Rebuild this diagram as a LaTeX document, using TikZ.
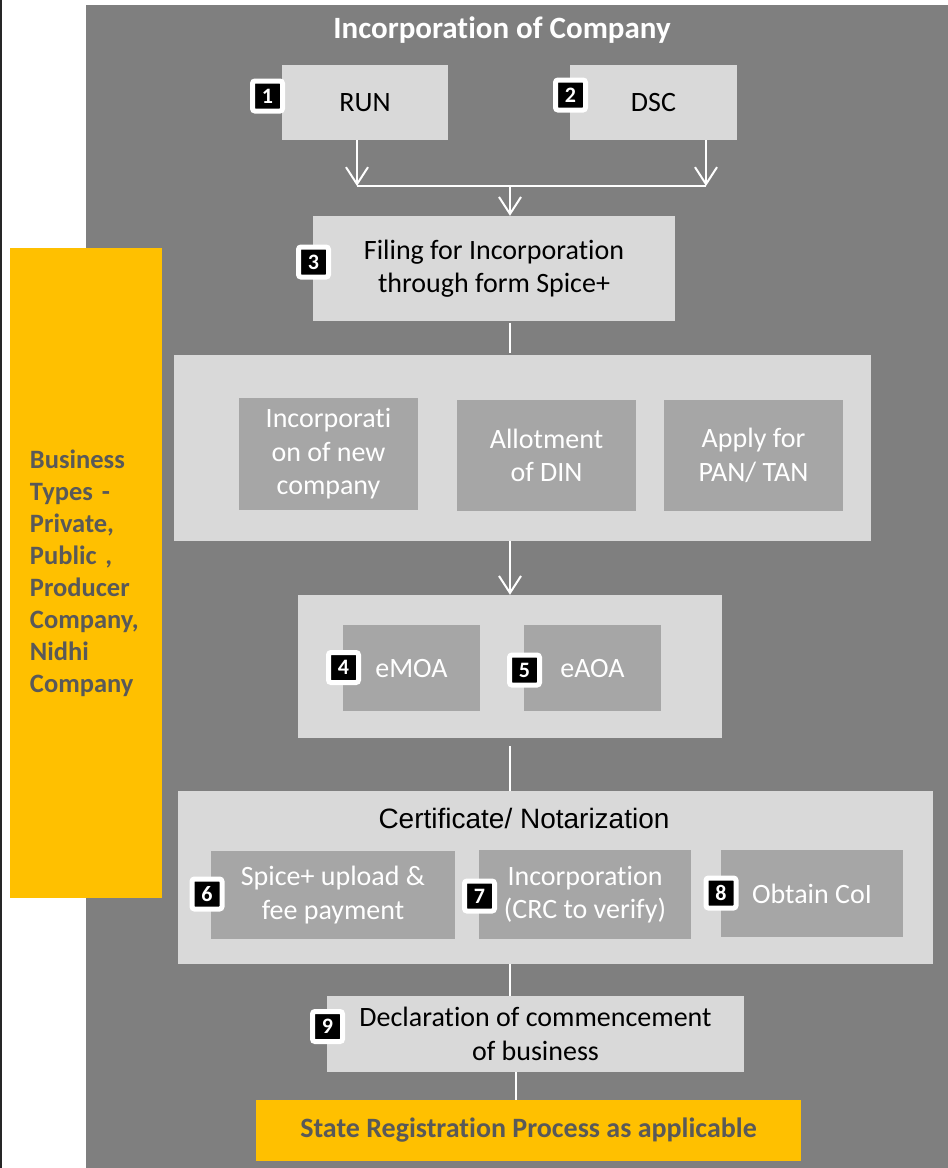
\documentclass[tikz,border=0pt]{standalone}
\usepackage{fontspec}
\setmainfont{Carlito}[RawFeature={-liga;-clig;-dlig}]
\newfontfamily\arialf{Liberation Sans}
\usetikzlibrary{arrows.meta}
\definecolor{bggray}{HTML}{7F7F7F}
\definecolor{lgray}{HTML}{D9D9D9}
\definecolor{mgray}{HTML}{A6A6A6}
\definecolor{ylw}{HTML}{FFC000}
\definecolor{dtxt}{HTML}{595959}
\begin{document}
\begin{tikzpicture}[x=1pt,y=-1pt,
  lbox/.style={fill=lgray, inner sep=0pt, align=center, font=\fontsize{28}{33.5}\selectfont, text=black},
  mbox/.style={fill=mgray, inner sep=0pt, align=center, font=\fontsize{28}{33.5}\selectfont, text=white},
  ybox/.style={fill=ylw, inner sep=0pt, text=dtxt},
  badge/.style={fill=black, draw=white, line width=5pt, rounded corners=2.5pt, minimum size=30pt, inner sep=0pt, text=white, font=\bfseries\fontsize{22}{22}\selectfont},
  conn/.style={draw=white, line width=2pt},
  arr/.style={conn, -{Straight Barb[length=17pt,width=22pt]}},
]
\useasboundingbox (0,0) rectangle (948,1168);
\fill[white] (0,0) rectangle (948,1168);
\fill[black!85] (0,0) rectangle (2,1168);
\fill[bggray] (86,5) rectangle (948,1168);

\node[font=\bfseries\fontsize{31}{31}\selectfont, text=white, inner sep=0pt] (title) at (502,30) {Incorporation of Company};

% left yellow box
\node[ybox, minimum width=152pt, minimum height=650pt, text width=112pt, align=left,
      font=\bfseries\fontsize{26.5}{32}\selectfont] (types) at (86,573)
  {Business\\Types -\\Private,\\Public ,\\Producer\\Company,\\Nidhi\\Company};

% step boxes
\node[lbox, minimum width=166pt, minimum height=75pt] (run) at (365,102.5) {RUN};
\node[lbox, minimum width=167pt, minimum height=75pt] (dsc) at (653.5,102.5) {DSC};
\node[lbox, minimum width=362pt, minimum height=105pt] (box3) at (494,268.5) {Filing for Incorporation\\through form Spice+};

\node[lbox, minimum width=697pt, minimum height=186pt] (boxA) at (522.5,448) {};
\node[mbox, minimum width=179pt, minimum height=112pt] (a1) at (328.5,454) {Incorporati\\on of new\\company};
\node[mbox, minimum width=179pt, minimum height=111pt] (a2) at (546.5,455.5) {Allotment\\of DIN};
\node[mbox, minimum width=179pt, minimum height=111pt] (a3) at (753.5,455.5) {Apply for\\PAN/ TAN};

\node[lbox, minimum width=424pt, minimum height=143pt] (boxB) at (510,666.5) {};
\node[mbox, minimum width=137pt, minimum height=86pt] (b4) at (411.5,668) {eMOA};
\node[mbox, minimum width=137pt, minimum height=86pt] (b5) at (592.5,668) {eAOA};

\node[lbox, minimum width=755pt, minimum height=173pt] (boxC) at (555.5,877.5) {};
\node[font=\arialf\fontsize{28}{30}\selectfont, text=black, inner sep=0pt] (certt) at (524,818) {Certificate/ Notarization};
\node[mbox, minimum width=244pt, minimum height=88pt] (c6) at (333,895) {Spice+ upload \&\\fee payment};
\node[mbox, minimum width=212pt, minimum height=89pt] (c7) at (585,894.5) {Incorporation\\(CRC to verify)};
\node[mbox, minimum width=182pt, minimum height=87pt] (c8) at (812,893.5) {Obtain CoI};

\node[lbox, minimum width=417pt, minimum height=76pt] (box9) at (535.5,1034) {Declaration of commencement\\of business};

\node[ybox, minimum width=545pt, minimum height=61pt, font=\bfseries\fontsize{28}{28}\selectfont] (state) at (528.5,1130.5) {State Registration Process as applicable};

% badges
\node[badge] (n1) at (267.5,96) {1};
\node[badge] (n2) at (570.5,95) {2};
\node[badge] (n3) at (313.5,262) {3};
\node[badge] (n4) at (343.5,667.5) {4};
\node[badge] (n5) at (524.5,670) {5};
\node[badge] (n6) at (207,894) {6};
\node[badge] (n7) at (479.5,896) {7};
\node[badge] (n8) at (721,893) {8};
\node[badge] (n9) at (327.5,1026.5) {9};

% connectors
\coordinate (j1) at (357,186);
\coordinate (j2) at (706,186);
\coordinate (jm) at (510,186);
\draw[arr] (run.south -| j1) -- (j1);
\draw[arr] (dsc.south -| j2) -- (j2);
\draw[conn] (j1) -- (j2);
\draw[arr] (jm) -- (box3.north -| jm);
\draw[conn, shorten <=2pt, shorten >=2pt] (box3.south -| jm) -- (boxA.north -| jm);
\draw[arr] (boxA.south -| boxB.north) -- (boxB.north);
\draw[conn, shorten <=8pt] (boxB.south) -- (boxB.south |- boxC.north);
\draw[conn] (boxC.south -| boxB.south) -- (box9.north -| boxB.south);
\draw[conn] ([xshift=-19.5pt]box9.south) -- ([xshift=-19.5pt]box9.south |- state.north);
\end{tikzpicture}
\end{document}
